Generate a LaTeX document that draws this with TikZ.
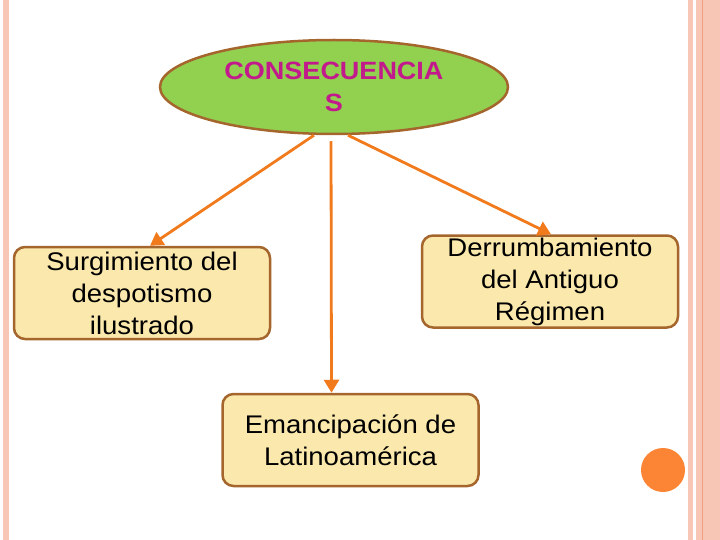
\documentclass[tikz,border=0pt]{standalone}
\usepackage{fontspec}
\usepackage{tikz}
\usetikzlibrary{positioning,shapes.geometric,arrows.meta}
\newfontfamily\slidefont[FakeStretch=1.08]{Liberation Sans}

\definecolor{verde}{HTML}{92D050}
\definecolor{cafe}{HTML}{A5662E}
\definecolor{crema}{HTML}{FBE8AC}
\definecolor{naranja}{HTML}{F07A1C}
\definecolor{magenta}{HTML}{C21A8C}
\definecolor{rosa}{HTML}{F8C6B4}
\definecolor{rosaosc}{HTML}{EE9E82}
\definecolor{bola}{HTML}{FB8534}

\tikzset{
	caja/.style={draw=cafe, fill=crema, line width=2.5pt, rounded corners=11pt,
		minimum width=256pt, minimum height=92pt, inner sep=0pt, align=center,
		font=\slidefont\fontsize{25.5}{32}\selectfont},
	flecha/.style={draw=naranja, line width=2.8pt, -{Triangle[length=13pt,width=15pt]}}
}

\begin{document}
\begin{tikzpicture}[x=1pt,y=-1pt]
	\useasboundingbox (0,0) rectangle (720,540);
	
	% bordes de la diapositiva
	\fill[rosa] (3,0) rectangle (9,540);
	\fill[rosa] (688,0) rectangle (693,540);
	\fill[rosa] (696,0) rectangle (720,540);
	\fill[rosaosc] (701.5,0) rectangle (703,540);
	\fill[bola] (663,470) circle (22);
	
	% nodos
	\node[ellipse, draw=cafe, fill=verde, line width=2.5pt, minimum width=348pt,
		minimum height=94pt, inner sep=0pt, align=center, text=magenta,
		font=\slidefont\bfseries\fontsize{25}{32}\selectfont] (cons) at (334,87) {CONSECUENCIA\\S};
	\node[caja] (desp) at (142,293) {Surgimiento del\\despotismo\\ilustrado};
	\node[caja] (regi) at (550,281.5) {Derrumbamiento\\del Antiguo\\Régimen};
	\node[caja] (eman) at (350.5,440) {Emancipación de\\Latinoamérica};
	
	% flechas
	\draw[flecha] ([xshift=-20pt]cons.south) -- ([xshift=8pt]desp.north);
	\draw[flecha, shorten <=6pt] ([xshift=-3pt]cons.south) -- ([xshift=-19pt]eman.north);
	\draw[flecha] ([xshift=14pt]cons.south) -- ([xshift=1pt]regi.north);
\end{tikzpicture}
\end{document}
